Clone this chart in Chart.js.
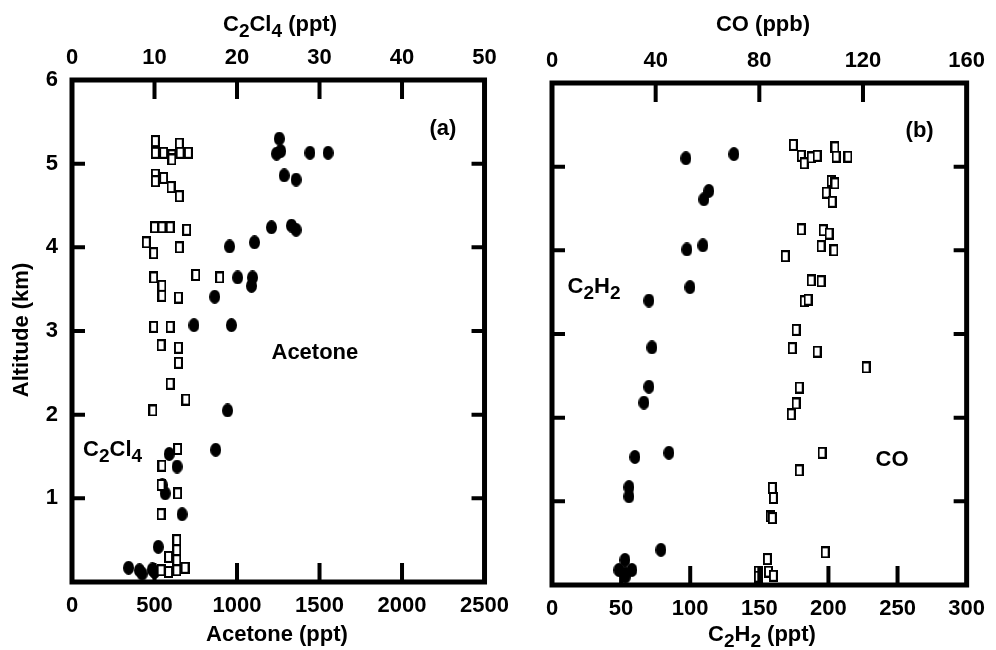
<!DOCTYPE html>
<html>
<head>
<meta charset="utf-8">
<script src="https://cdn.jsdelivr.net/npm/chart.js"></script>
<style>
  html, body { margin: 0; padding: 0; background: #fff; }
  #wrap { position: relative; width: 996px; height: 650px; overflow: hidden; }
  canvas { position: absolute; top: 0; }
  #chart-a { left: 0; }
  #chart-b { left: 500px; }
</style>
</head>
<body>
<div id="wrap">
  <canvas id="chart-a" width="520" height="650"></canvas>
  <canvas id="chart-b" width="496" height="650"></canvas>
</div>
<script>
    // panel (a): acetone (filled) vs altitude
    var acetonePpt = [1256, 1240, 1265, 1442, 1552, 1286, 1358, 1209, 1330, 1358, 1106, 955,
        1004, 1094, 1088, 865, 739, 966, 943, 871, 589, 637, 547, 565, 667, 523, 343, 409, 487, 500, 425];
    var acetoneAlt = [5.30, 5.12, 5.15, 5.13, 5.13, 4.86, 4.81, 4.24, 4.26, 4.21, 4.06, 4.01,
        3.64, 3.64, 3.54, 3.41, 3.07, 3.07, 2.05, 1.58, 1.53, 1.38, 1.16, 1.06, 0.81, 0.42, 0.17, 0.14, 0.15, 0.12, 0.10];

    // panel (a): C2Cl4 (open squares)
    var c2cl4Ppt = [10.1, 10.1, 11.1, 12.1, 13.0, 13.1, 14.1, 12.1, 10.1, 10.1, 11.1, 12.0, 13.0,
        10.0, 10.9, 11.9, 13.9, 9.0, 9.9, 13.0, 9.9, 15.0, 17.9, 10.9, 10.9, 12.9, 9.9, 11.9,
        10.8, 12.9, 12.9, 11.9, 13.8, 9.8, 12.8, 10.9, 10.8, 12.8, 10.8, 12.7, 12.7, 12.7, 11.7,
        12.7, 10.8, 11.7, 13.7];
    var c2cl4Alt = [5.27, 5.13, 5.13, 5.10, 5.24, 5.13, 5.13, 5.05, 4.87, 4.79, 4.83, 4.72, 4.61,
        4.24, 4.24, 4.24, 4.21, 4.06, 3.93, 4.00, 3.64, 3.67, 3.64, 3.54, 3.42, 3.40, 3.05, 3.05,
        2.83, 2.80, 2.62, 2.37, 2.18, 2.05, 1.59, 1.39, 1.16, 1.06, 0.81, 0.50, 0.38, 0.26, 0.30,
        0.14, 0.14, 0.12, 0.17];

    // panel (b): C2H2 (filled)
    var c2h2Ppt = [96.9, 131.6, 113.5, 109.9, 109.2, 97.6, 99.8, 70.1, 72.3, 70.1, 66.5, 84.6,
        60.0, 55.7, 55.7, 78.8, 52.8, 48.4, 57.8, 52.8, 53.0];
    var c2h2Alt = [5.10, 5.15, 4.71, 4.61, 4.06, 4.01, 3.56, 3.40, 2.84, 2.37, 2.18, 1.58,
        1.53, 1.17, 1.06, 0.42, 0.30, 0.18, 0.18, 0.14, 0.10];

    // panel (b): CO (open squares)
    var coPpb = [93.1, 96.2, 97.3, 100.0, 102.3, 109.2, 109.6, 114.2, 107.7, 109.2, 105.8, 108.1,
        96.2, 104.6, 106.9, 103.8, 108.8, 90.0, 100.0, 103.8, 97.3, 98.8, 94.2, 92.7, 102.3, 121.2,
        95.4, 94.2, 92.3, 104.2, 95.4, 85.0, 85.4, 84.2, 85.0, 105.4, 83.1, 79.6, 83.5, 85.4, 79.6];
    var coAlt = [5.26, 5.13, 5.04, 5.11, 5.13, 5.23, 5.12, 5.12, 4.83, 4.80, 4.69, 4.58,
        4.25, 4.24, 4.20, 4.05, 4.00, 3.93, 3.64, 3.63, 3.39, 3.41, 3.05, 2.83, 2.79, 2.60,
        2.36, 2.17, 2.04, 1.58, 1.37, 1.16, 1.04, 0.82, 0.80, 0.39, 0.31, 0.16, 0.16, 0.11, 0.10];

    // tick marks drawn inside the frame
    var altTicks = [1, 2, 3, 4, 5];
    var acetoneTicks = [500, 1000, 1500, 2000];
    var c2cl4Ticks = [10, 20, 30, 40];
    var c2h2Ticks = [50, 100, 150, 200, 250];
    var coTicks = [40, 80, 120];

    var FONT = '"Liberation Sans", Arial, Helvetica, sans-serif';

    function pairs(xs, ys) {
        return xs.map(function(v, i) { return { x: v, y: ys[i] }; });
    }

    // marker images
    function dot() {
        var c = document.createElement('canvas');
        c.width = 11; c.height = 14;
        var g = c.getContext('2d');
        g.fillStyle = '#000';
        g.beginPath();
        g.ellipse(5.5, 7, 5.5, 7, 0, 0, Math.PI * 2);
        g.fill();
        return c;
    }
    function box() {
        var c = document.createElement('canvas');
        c.width = 9; c.height = 12;
        var g = c.getContext('2d');
        g.fillStyle = '#fff';
        g.fillRect(0, 0, 9, 12);
        g.strokeStyle = '#000';
        g.lineWidth = 2;
        g.strokeRect(1, 1, 7, 10);
        return c;
    }

    // text with _n subscripts
    function drawRich(ctx, str, x, y, size) {
        var runs = [];
        for (var i = 0; i < str.length; i++) {
            if (str[i] === '_') { runs.push({ t: str[i + 1], sub: true }); i++; }
            else if (runs.length && !runs[runs.length - 1].sub) runs[runs.length - 1].t += str[i];
            else runs.push({ t: str[i], sub: false });
        }
        var big = 'bold ' + size + 'px ' + FONT;
        var small = 'bold ' + Math.round(size * 0.85) + 'px ' + FONT;
        var w = 0;
        runs.forEach(function(r) { ctx.font = r.sub ? small : big; r.w = ctx.measureText(r.t).width; w += r.w; });
        var cx = x - w / 2;
        ctx.textBaseline = 'middle';
        ctx.textAlign = 'left';
        ctx.fillStyle = '#000';
        runs.forEach(function(r) {
            ctx.font = r.sub ? small : big;
            ctx.fillText(r.t, cx, y + (r.sub ? size * 0.3 : 0));
            cx += r.w;
        });
    }

    function decor(cfg) {
        return {
            id: 'decor',
            afterDraw: function(chart) {
                var ctx = chart.ctx, a = chart.chartArea, s = chart.scales;
                ctx.save();
                ctx.strokeStyle = '#000';
                ctx.lineWidth = 4;
                ctx.beginPath();
                cfg.bottomTicks.forEach(function(v) {
                    var p = s.x.getPixelForValue(v);
                    ctx.moveTo(p, a.bottom); ctx.lineTo(p, a.bottom - 19);
                });
                cfg.topTicks.forEach(function(v) {
                    var p = s.x2.getPixelForValue(v);
                    ctx.moveTo(p, a.top); ctx.lineTo(p, a.top + 19);
                });
                cfg.yTicks.forEach(function(v) {
                    var p = s.y.getPixelForValue(v);
                    ctx.moveTo(a.left, p); ctx.lineTo(a.left + 13, p);
                    ctx.moveTo(a.right, p); ctx.lineTo(a.right - 13, p);
                });
                ctx.stroke();
                ctx.lineWidth = 5;
                ctx.strokeRect(a.left, a.top, a.right - a.left, a.bottom - a.top);

                cfg.titles.forEach(function(t) {
                    ctx.save();
                    ctx.translate(t.x, t.y);
                    if (t.rot) ctx.rotate(-Math.PI / 2);
                    drawRich(ctx, t.text, 0, 0, 22);
                    ctx.restore();
                });
                cfg.notes.forEach(function(n) {
                    drawRich(ctx, n.text, s.x.getPixelForValue(n.x), s.y.getPixelForValue(n.y), 22);
                });
                ctx.restore();
            }
        };
    }

    function plain(v) { return String(v); }

    function scaleSet(xMax, xStep, x2Max, x2Step, box, showY) {
        var tickFont = { family: FONT, size: 22, weight: 'bold' };
        var hidden = { display: false, drawTicks: false };
        return {
            x: {
                type: 'linear', position: 'bottom', min: 0, max: xMax,
                grid: hidden, border: { display: false },
                ticks: { stepSize: xStep, autoSkip: false, maxRotation: 0, padding: 11, color: '#000', font: tickFont, callback: plain },
                afterFit: function(sc) { sc.height = box.bottom; }
            },
            x2: {
                type: 'linear', position: 'top', min: 0, max: x2Max,
                grid: hidden, border: { display: false },
                ticks: { stepSize: x2Step, autoSkip: false, maxRotation: 0, padding: 9, color: '#000', font: tickFont, callback: plain },
                afterFit: function(sc) { sc.height = box.top; }
            },
            y: {
                type: 'linear', position: 'left', min: 0, max: 6,
                grid: hidden, border: { display: false },
                ticks: {
                    display: showY, stepSize: 1, padding: 14, color: '#000', font: tickFont,
                    callback: function(v) { return v === 0 ? '' : String(v); }
                },
                afterFit: function(sc) { sc.width = box.left; }
            }
        };
    }

    function makeChart(id, filled, open, scales, right, cfg) {
        var ctx = document.getElementById(id).getContext('2d');
        return new Chart(ctx, {
            type: 'scatter',
            data: {
                datasets: [
                    { data: filled, xAxisID: 'x', yAxisID: 'y', pointStyle: dot(), pointRadius: 6, order: 2 },
                    { data: open, xAxisID: 'x2', yAxisID: 'y', pointStyle: box(), pointRadius: 6, order: 1 }
                ]
            },
            options: {
                responsive: false,
                animation: false,
                devicePixelRatio: 1,
                events: [],
                layout: { autoPadding: false, padding: { left: 0, top: 0, bottom: 0, right: right } },
                plugins: { legend: { display: false }, tooltip: { enabled: false } },
                scales: scales
            },
            plugins: [decor(cfg)]
        });
    }

    makeChart('chart-a',
        pairs(acetonePpt, acetoneAlt), pairs(c2cl4Ppt, c2cl4Alt),
        scaleSet(2500, 500, 50, 10, { left: 72, top: 80, bottom: 68 }, true), 32,
        {
            bottomTicks: acetoneTicks, topTicks: c2cl4Ticks, yTicks: altTicks,
            titles: [
                { text: 'C_2Cl_4 (ppt)', x: 280, y: 25 },
                { text: 'Acetone (ppt)', x: 277, y: 635 },
                { text: 'Altitude (km)', x: 22, y: 330, rot: true }
            ],
            notes: [
                { text: '(a)', x: 2248, y: 5.41 },
                { text: 'Acetone', x: 1472, y: 2.74 },
                { text: 'C_2Cl_4', x: 246, y: 1.58 }
            ]
        });

    makeChart('chart-b',
        pairs(c2h2Ppt, c2h2Alt), pairs(coPpb, coAlt),
        scaleSet(300, 50, 160, 40, { left: 52, top: 83, bottom: 65 }, false), 29,
        {
            bottomTicks: c2h2Ticks, topTicks: coTicks, yTicks: altTicks,
            titles: [
                { text: 'CO (ppb)', x: 263, y: 25 },
                { text: 'C_2H_2 (ppt)', x: 262, y: 635 }
            ],
            notes: [
                { text: '(b)', x: 266, y: 5.43 },
                { text: 'C_2H_2', x: 30.4, y: 3.56 },
                { text: 'CO', x: 246, y: 1.49 }
            ]
        });
</script>
</body>
</html>
